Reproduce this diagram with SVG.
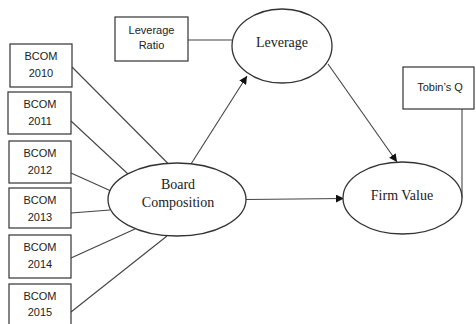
<svg xmlns="http://www.w3.org/2000/svg" width="476" height="324" viewBox="0 0 476 324">
<style>
.box{fill:#fff;stroke:#333;stroke-width:1.2}
.ell{fill:#fff;stroke:#333;stroke-width:1.3}
.ln{stroke:#444;stroke-width:1.1;fill:none}
.st{font-family:"Liberation Sans",Arial,sans-serif;font-size:11px;fill:#222;text-anchor:middle}
.sr{font-family:"Liberation Serif","Times New Roman",serif;font-size:14px;fill:#222;text-anchor:middle}
</style>
<defs>
<marker id="ah" viewBox="0 0 10 10" refX="10" refY="5" markerWidth="8" markerHeight="8" markerUnits="userSpaceOnUse" orient="auto">
<path d="M0,0 L10,5 L0,10 Z" fill="#111"/>
</marker>
</defs>
<rect width="476" height="324" fill="#fff"/>
<g id="connectors">
<line class="ln" x1="72" y1="67" x2="168" y2="163.5"/>
<line class="ln" x1="71" y1="121" x2="128" y2="174"/>
<line class="ln" x1="71" y1="173" x2="111" y2="191"/>
<line class="ln" x1="71" y1="213" x2="110" y2="210"/>
<line class="ln" x1="71" y1="258" x2="135" y2="229"/>
<line class="ln" x1="71" y1="312" x2="167" y2="236"/>
<line class="ln" x1="188" y1="40" x2="232" y2="40"/>
<line class="ln" x1="462" y1="109" x2="462" y2="198"/>
<line class="ln" x1="191" y1="164" x2="247" y2="76" marker-end="url(#ah)"/>
<line class="ln" x1="328" y1="64" x2="397" y2="162" marker-end="url(#ah)"/>
<line class="ln" x1="246" y1="199.5" x2="344" y2="198.5" marker-end="url(#ah)"/>
</g>
<g id="bcom2010"><rect class="box" x="10" y="44" width="62" height="43"/><text class="st" x="41" y="60">BCOM</text><text class="st" x="41" y="77">2010</text></g>
<g id="bcom2011"><rect class="box" x="8" y="92" width="63" height="42"/><text class="st" x="40" y="108">BCOM</text><text class="st" x="40" y="125">2011</text></g>
<g id="bcom2012"><rect class="box" x="9" y="141" width="62" height="42"/><text class="st" x="40" y="157">BCOM</text><text class="st" x="40" y="174">2012</text></g>
<g id="bcom2013"><rect class="box" x="9" y="188" width="62" height="40"/><text class="st" x="40" y="204">BCOM</text><text class="st" x="40" y="221">2013</text></g>
<g id="bcom2014"><rect class="box" x="9" y="235" width="62" height="43"/><text class="st" x="40" y="251">BCOM</text><text class="st" x="40" y="268">2014</text></g>
<g id="bcom2015"><rect class="box" x="9" y="284" width="62" height="45"/><text class="st" x="40" y="300">BCOM</text><text class="st" x="40" y="316">2015</text></g>
<g id="leverage-ratio"><rect class="box" x="115" y="17" width="73" height="44"/><text class="st" x="151.5" y="34">Leverage</text><text class="st" x="151.5" y="49">Ratio</text></g>
<g id="tobins-q"><rect class="box" x="403" y="67" width="71" height="42"/><text class="st" x="440" y="91">Tobin’s Q</text></g>
<g id="leverage"><ellipse class="ell" cx="282" cy="46" rx="50" ry="37"/><text class="sr" x="282" y="47">Leverage</text></g>
<g id="board-composition"><ellipse class="ell" cx="177" cy="199.5" rx="69" ry="36.5"/><text class="sr" x="178" y="189">Board</text><text class="sr" x="178" y="207">Composition</text></g>
<g id="firm-value"><ellipse class="ell" cx="402.5" cy="198" rx="59.5" ry="36"/><text class="sr" x="402" y="200">Firm Value</text></g>
</svg>
